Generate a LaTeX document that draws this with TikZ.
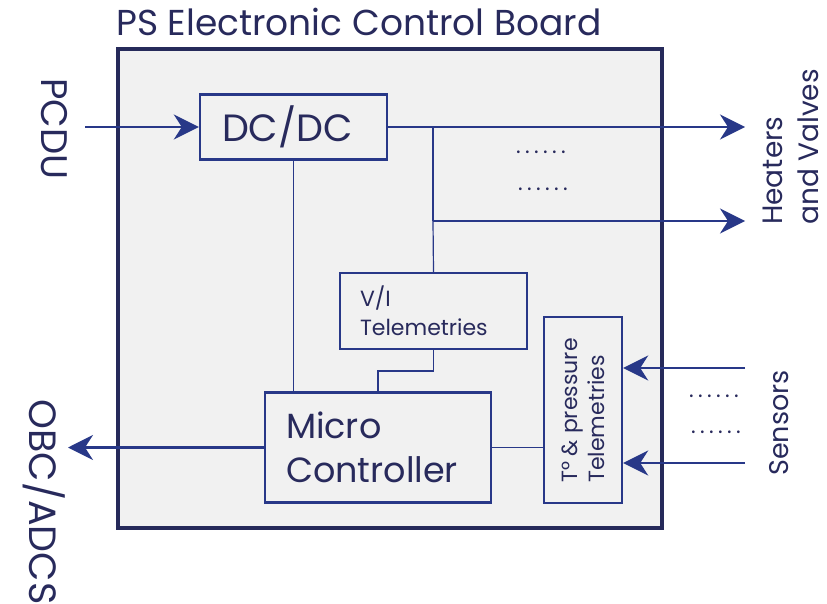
\documentclass[tikz,border=0pt]{standalone}
\usepackage{fontspec}
\setmainfont{Poppins}
\usetikzlibrary{arrows.meta}
\definecolor{lineblue}{RGB}{40,56,136}
\definecolor{txt}{RGB}{40,42,92}
\definecolor{boardedge}{RGB}{38,42,90}
\definecolor{boardfill}{RGB}{241,241,241}
\newcommand\sixdots{.\kern4.4pt.\kern4.4pt.\kern4.4pt.\kern4.4pt.\kern4.4pt.}
\begin{document}
\begin{tikzpicture}[x=1pt,y=-1pt,
 box/.style={draw=lineblue, line width=2.4pt, fill=boardfill, rectangle, inner ysep=0pt, text=txt, align=left},
 thinw/.style={draw=lineblue, line width=1.2pt},
 wire/.style={draw=lineblue, line width=2.2pt},
 arr/.style={wire, -{Stealth[length=25pt,width=25pt,inset=8pt]}},
 lbl/.style={text=txt, inner sep=0pt},
 dotrow/.style={text=txt, inner sep=0pt, font=\fontsize{22}{24}\selectfont}]
\useasboundingbox (0,0) rectangle (827,604);
\node[draw=boardedge, line width=3.5pt, fill=boardfill, minimum width=544pt, minimum height=479pt, inner sep=0pt] (board) at (390,288.5) {};
\node[lbl, anchor=base west, font=\fontsize{36}{42}\selectfont] (title) at (116,36) {PS Electronic Control Board};
\node[box, text width=143pt, inner xsep=22pt, minimum height=65pt, font=\fontsize{38}{44}\selectfont] (dcdc) at (293.5,127) {DC/DC};
\node[box, text width=147pt, inner xsep=20pt, minimum height=76pt, font=\fontsize{22}{29}\selectfont] (vi) at (433.5,311) {V/I\\Telemetries};
\node[box, text width=184pt, inner xsep=21pt, minimum height=110pt, font=\fontsize{35}{44}\selectfont] (mc) at (378,447.5) {Micro\\Controller};
\node[box, minimum width=78pt, minimum height=186pt] (tp) at (583,410) {};
\node[lbl, rotate=90, anchor=west, align=left, font=\fontsize{22}{27}\selectfont] (tptext) at (583,483) {T° \& pressure\\Telemetries};
\coordinate (pcdu0) at (85,127);
\coordinate (heat1) at (745,127);
\coordinate (j1) at (433,127);
\coordinate (j2) at (433,221);
\coordinate (heat2) at (745,221);
\coordinate (k) at (378,371);
\coordinate (obc) at (68,447.5);
\coordinate (sens1) at (745,368);
\coordinate (sens2) at (745,463);
\draw[arr] (pcdu0) -- (dcdc.west);
\draw[arr] (dcdc.east) -- (heat1);
\draw[wire] (j1) -- (j2);
\draw[arr] (j2) -- (heat2);
\draw[thinw] (j2) -- (vi.north);
\draw[thinw] (dcdc.south) -- (dcdc.south |- mc.north);
\draw[thinw] (vi.south) |- (k) -- (k |- mc.north);
\draw[arr] (mc.west) -- (obc);
\draw[thinw] (mc.east) -- (mc.east -| tp.west);
\draw[arr] (sens1) -- (sens1 -| tp.east);
\draw[arr] (sens2) -- (sens2 -| tp.east);
\node[lbl, rotate=-90, font=\fontsize{37}{44}\selectfont] (pcdu) at (54,129) {PCDU};
\node[lbl, rotate=-90, font=\fontsize{38}{44}\selectfont] (obctext) at (44,502) {OBC/ADCS};
\node[lbl, rotate=90, align=left, anchor=west, font=\fontsize{28}{36}\selectfont] (heat) at (791,225) {Heaters\\and Valves};
\node[lbl, rotate=90, font=\fontsize{27}{32}\selectfont] (sens) at (779,423) {Sensors};
\node[dotrow] (d1) at (541,152) {\sixdots};
\node[dotrow] (d2) at (543,189) {\sixdots};
\node[dotrow] (d3) at (714,396) {\sixdots};
\node[dotrow] (d4) at (716,432) {\sixdots};
\end{tikzpicture}
\end{document}
